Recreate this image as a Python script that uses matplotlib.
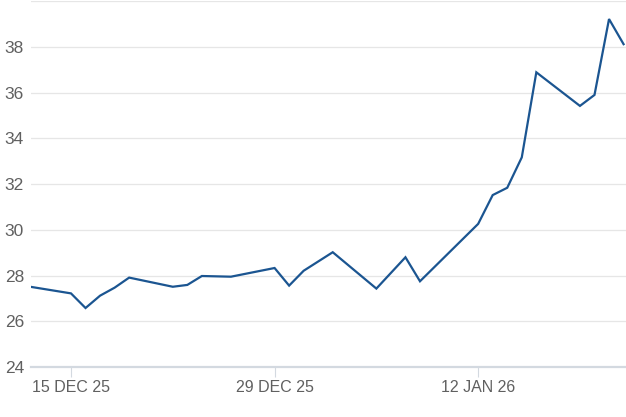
"""
Daily price line, 12 Dec 2025 - 22 Jan 2026.
Recreates a simple single-series line chart with light horizontal gridlines.
"""

import pandas as pd
import matplotlib
matplotlib.use("Agg")
import matplotlib.pyplot as plt

# trading days and closing values
dates = [
    "2025-12-12", "2025-12-15", "2025-12-16", "2025-12-17", "2025-12-18",
    "2025-12-19", "2025-12-22", "2025-12-23", "2025-12-24", "2025-12-26",
    "2025-12-29", "2025-12-30", "2025-12-31", "2026-01-02", "2026-01-05",
    "2026-01-07", "2026-01-08", "2026-01-12", "2026-01-13", "2026-01-14",
    "2026-01-15", "2026-01-16", "2026-01-19", "2026-01-20", "2026-01-21",
    "2026-01-22",
]
values = [
    27.53, 27.22, 26.58, 27.12, 27.47,
    27.91, 27.51, 27.59, 27.98, 27.95,
    28.33, 27.56, 28.21, 29.02, 27.43,
    28.80, 27.75, 30.26, 31.52, 31.84,
    33.17, 36.89, 35.42, 35.90, 39.22,
    38.12,
]
tick_dates = ["2025-12-15", "2025-12-29", "2026-01-12"]
tick_labels = ["15 DEC 25", "29 DEC 25", "12 JAN 26"]
y_ticks = [24, 26, 28, 30, 32, 34, 36, 38, 40]
y_labels = ["24", "26", "28", "30", "32", "34", "36", "38", ""]

LINE_COLOR = "#1b5591"
GRID_COLOR = "#e6e6e6"
AXIS_COLOR = "#d3d9e0"
TEXT_COLOR = "#606060"


def main():
    plt.rcParams["font.family"] = ["Liberation Sans", "DejaVu Sans"]

    df = pd.DataFrame({"date": pd.to_datetime(dates), "value": values})

    fig = plt.figure(figsize=(6.26, 4.17), dpi=100)
    ax = fig.add_axes([31 / 626, 50 / 417, 595 / 626, 365.8 / 417])

    ax.plot(df["date"], df["value"], color=LINE_COLOR, linewidth=1.6,
            solid_joinstyle="miter", zorder=3)

    # the line starts a little after the first point, at the left edge
    start = df["date"].iloc[0] + pd.Timedelta(hours=6)
    end = df["date"].iloc[-1] + pd.Timedelta(hours=4)
    ax.set_xlim(start, end)
    ax.set_ylim(24, 40)

    ax.set_yticks(y_ticks)
    ax.set_yticklabels(y_labels)
    ax.set_xticks(pd.to_datetime(tick_dates))
    ax.set_xticklabels(tick_labels)

    ax.grid(axis="y", color=GRID_COLOR, linewidth=0.9, zorder=0)
    for side in ["top", "right", "left"]:
        ax.spines[side].set_visible(False)
    ax.spines["bottom"].set_color(AXIS_COLOR)
    ax.spines["bottom"].set_linewidth(1.6)

    ax.tick_params(axis="y", length=0, pad=5, labelsize=12.5,
                   labelcolor=TEXT_COLOR)
    ax.tick_params(axis="x", length=7, width=0.8, color=AXIS_COLOR, pad=2,
                   labelsize=11.5, labelcolor=TEXT_COLOR)

    fig.savefig("out.png", dpi=100, facecolor="white")


if __name__ == "__main__":
    main()
